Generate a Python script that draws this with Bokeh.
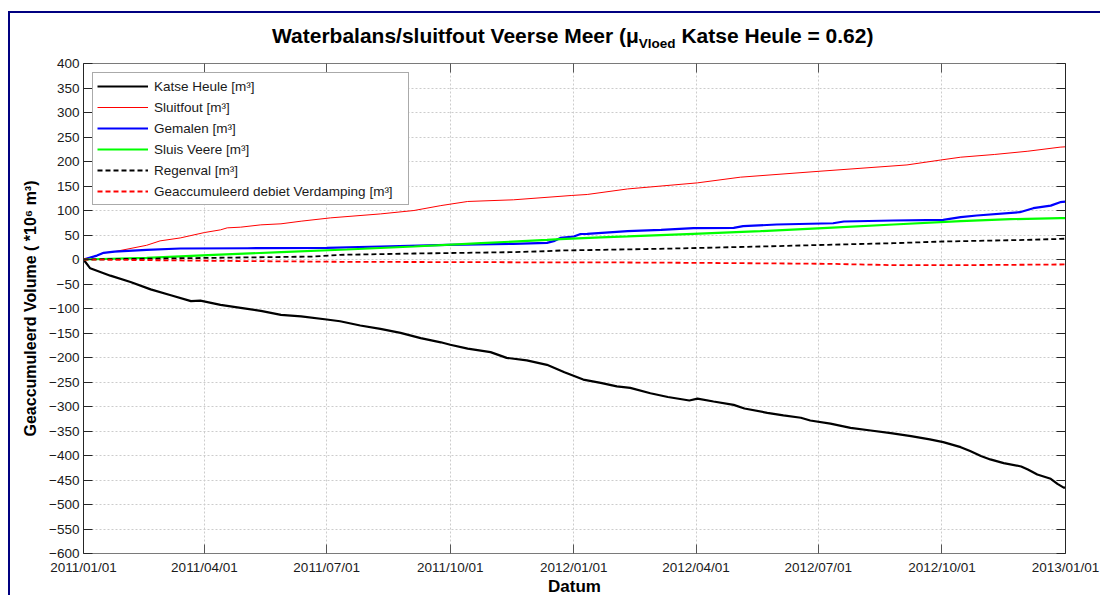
import pandas as pd
from bokeh.plotting import figure
from bokeh.layouts import column
from bokeh.models import (Range1d, FixedTicker, DatetimeTickFormatter, LinearAxis,
                          CustomJSTickFormatter, Div)
from bokeh.embed import file_html
from bokeh.resources import INLINE

START = pd.Timestamp("2011-01-01")
END = pd.Timestamp("2013-01-01")

# ---- data: days since 2011-01-01 and accumulated volume (*10^6 m3) ----
katse_days = [0, 5, 20, 35, 50, 65, 80, 87, 102, 117, 132, 147, 162, 181, 191, 206, 221, 236,
              251, 266, 273, 286, 303, 315, 330, 345, 358, 372, 385, 397, 407, 422, 435, 451,
              457, 469, 484, 492, 509, 521, 534, 541, 556, 571, 586, 601, 616, 630, 640, 653,
              660, 668, 675, 685, 698, 703, 710, 720, 725, 730, 731]
katse_vals = [0, -18, -33, -46, -61, -73, -85, -84, -92.5, -98.6, -105, -113, -116, -122.5, -126,
              -134.7, -141.5, -149.7, -160.5, -169, -174, -182, -189, -200.7, -206, -215, -230,
              -245, -251.7, -259, -262, -273, -280.6, -287.8, -284, -289.8, -296.6, -304, -313,
              -318, -323, -328.6, -335, -343.5, -349, -354.5, -360.5, -367, -372.8, -383, -391,
              -401, -408, -415.6, -422.4, -428.6, -438.8, -447.6, -457.8, -466, -465]

sluit_days = [0, 10, 15, 23, 47, 57, 72, 90, 102, 107, 117, 132, 147, 162, 184, 221, 246, 266,
              286, 320, 363, 375, 405, 457, 489, 549, 613, 638, 653, 678, 703, 727, 731]
sluit_vals = [0, 8, 13.6, 16, 29, 38, 44, 55, 60.5, 64.6, 66, 70.7, 72.8, 78.2, 85, 93, 100, 110,
              118.4, 121.8, 130.6, 132.7, 144, 156.4, 168, 180.3, 193, 203, 208.8, 214.3, 221,
              229.3, 230]

gemalen_days = [0, 10, 15, 23, 47, 72, 122, 181, 221, 271, 320, 345, 350, 355, 365, 370, 375,
                405, 430, 454, 484, 491, 516, 558, 566, 603, 640, 653, 665, 697, 707, 720, 727, 731]
gemalen_vals = [0, 8, 13.6, 16, 19.7, 22.4, 23, 23.8, 26.5, 30, 32, 34, 37.4, 44, 47, 52, 52.4,
                57.8, 60.5, 64, 64.6, 68, 71.4, 74, 77.6, 79.6, 81, 86.4, 89.8, 96.5, 104.7, 110,
                117, 118]

sluis_days = [0, 47, 97, 147, 196, 246, 296, 345, 355, 385, 405, 454, 504, 554, 603, 653, 690,
              727, 731]
sluis_vals = [0, 3.4, 9.5, 15, 20.4, 26.5, 33.3, 40, 41.5, 45, 47, 52.4, 57.8, 64.6, 71.4, 78.2,
              82.3, 84.4, 84.5]

regen_days = [0, 97, 171, 191, 246, 320, 345, 355, 385, 429, 504, 554, 603, 640, 702, 727, 731]
regen_vals = [0, 3.4, 6, 9.5, 12.2, 15, 17, 18.4, 19.7, 21.8, 26.5, 30, 33.3, 36.7, 40, 42, 42.5]

verd_days = [0, 97, 196, 295, 355, 385, 454, 554, 603, 653, 727, 731]
verd_vals = [0, -2.7, -4.8, -5.4, -6, -5.8, -6.8, -8.8, -11.5, -11.5, -10.2, -10]

x_tick_dates = ["2011-01-01", "2011-04-01", "2011-07-01", "2011-10-01", "2012-01-01",
                "2012-04-01", "2012-07-01", "2012-10-01", "2013-01-01"]
y_ticks = list(range(-600, 401, 50))

labels = ["Katse Heule [m³]", "Sluitfout [m³]", "Gemalen [m³]", "Sluis Veere [m³]",
          "Regenval [m³]", "Geaccumuleerd debiet Verdamping [m³]"]

title_main = "Waterbalans/sluitfout Veerse Meer (μ"
title_sub = "Vloed"
title_end = "Katse Heule = 0.62)"
x_label = "Datum"
y_label = "Geaccumuleerd Volume ( *10⁶ m³)"


def to_dates(days):
    return [START + pd.Timedelta(days=d) for d in days]


FONT = "Liberation Sans"

p = figure(width=1090, height=526, output_backend="svg", toolbar_location=None,
           x_axis_type="datetime",
           x_range=Range1d(START, END), y_range=Range1d(-600, 400),
           min_border_left=73, min_border_right=35, min_border_top=10, min_border_bottom=26)
p.background_fill_color = "white"
p.border_fill_color = "white"
p.outline_line_color = None

bottom_axis = p.xaxis[0]
left_axis = p.yaxis[0]

series = [
    (katse_days, katse_vals, "black", 2.2, "solid"),
    (sluit_days, sluit_vals, "#ff0000", 1.0, "solid"),
    (gemalen_days, gemalen_vals, "#0000ff", 2.2, "solid"),
    (sluis_days, sluis_vals, "#00ff00", 2.2, "solid"),
    (regen_days, regen_vals, "black", 1.8, "5 3"),
    (verd_days, verd_vals, "#ff0000", 1.8, "5 3"),
]
for (d, v, c, w, dash), lab in zip(series, labels):
    p.line(to_dates(d), v, line_color=c, line_width=w, line_dash=dash, legend_label=lab)

# axes
xt = [pd.Timestamp(s).value // 10**6 for s in x_tick_dates]
fmt = "%Y/%m/%d"
xfmt = DatetimeTickFormatter(milliseconds=fmt, seconds=fmt, minsec=fmt, minutes=fmt,
                             hourmin=fmt, hours=fmt, days=fmt, months=fmt, years=fmt,
                             strip_leading_zeros=False)
bottom_axis.ticker = FixedTicker(ticks=xt)
bottom_axis.formatter = xfmt
left_axis.ticker = FixedTicker(ticks=y_ticks)

blank = CustomJSTickFormatter(code="return '';")
top_axis = LinearAxis(ticker=FixedTicker(ticks=xt), formatter=blank)
right_axis = LinearAxis(ticker=FixedTicker(ticks=y_ticks), formatter=blank)
p.add_layout(top_axis, "above")
p.add_layout(right_axis, "right")

for ax in [bottom_axis, left_axis, top_axis, right_axis]:
    ax.major_tick_in = 9
    ax.major_tick_out = 0
    ax.minor_tick_line_color = None
    ax.major_label_text_font = FONT
    ax.major_label_text_font_size = "13.5px"
    ax.major_label_text_color = "#1a1a1a"
    ax.axis_line_width = 1
    ax.major_tick_line_width = 1
    ax.axis_label_text_font = FONT
    ax.axis_label_text_font_style = "bold"
    ax.axis_label_text_color = "black"
top_axis.major_label_text_font_size = "0px"
right_axis.major_label_text_font_size = "0px"
top_axis.major_label_standoff = 0
right_axis.major_label_standoff = 0
bottom_axis.axis_line_color = "#7a7a7a"
top_axis.axis_line_color = "#7a7a7a"
left_axis.axis_line_color = "#262626"
right_axis.axis_line_color = "#262626"
bottom_axis.major_tick_line_color = "#555555"
top_axis.major_tick_line_color = "#555555"
left_axis.major_tick_line_color = "#262626"
right_axis.major_tick_line_color = "#262626"
bottom_axis.major_label_standoff = 6
left_axis.major_label_standoff = 4

left_axis.axis_label = y_label
left_axis.axis_label_text_font_size = "16px"
left_axis.axis_label_standoff = 7

p.xgrid.ticker = FixedTicker(ticks=xt)
p.ygrid.ticker = FixedTicker(ticks=y_ticks)
for g in [p.xgrid[0], p.ygrid[0]]:
    g.grid_line_color = "#cccccc"
    g.grid_line_dash = "2 2"
    g.grid_line_width = 1

# legend
lg = p.legend[0]
lg.location = "top_left"
lg.margin = 9
lg.padding = 4
lg.spacing = 3
lg.label_height = 18
lg.glyph_height = 18
lg.glyph_width = 51
lg.label_standoff = 6
lg.label_width = 250
lg.label_text_font = FONT
lg.label_text_font_size = "13.5px"
lg.label_text_color = "#1a1a1a"
lg.border_line_color = "#555555"
lg.border_line_width = 1
lg.background_fill_alpha = 1

# title with subscript as HTML text
title_html = (
    "<div style=\"padding-left:262px; padding-top:12px; font-family:'Liberation Sans';"
    " font-weight:bold; font-size:21px; line-height:1; white-space:nowrap; color:black\">"
    f"{title_main}<span style=\"font-size:13.5px; vertical-align:-5px\">{title_sub}</span>"
    f" {title_end}</div>"
)
title_div = Div(text=title_html, width=1090, height=40, margin=(0, 0, 0, 0))

xlabel_html = (
    "<div style=\"padding-left:538px; font-family:'Liberation Sans'; font-weight:bold;"
    " font-size:17px; line-height:16px; white-space:nowrap; color:black\">"
    f"{x_label}</div>"
)
xlabel_div = Div(text=xlabel_html, width=1090, height=16, margin=(0, 0, 0, 0))

layout = column(title_div, p, xlabel_div, spacing=0,
                styles={"border-left": "2px solid #000080", "border-top": "2px solid #000080",
                        "margin-top": "11px", "margin-left": "8px"})

open("out.html", "w").write(file_html(layout, INLINE))
